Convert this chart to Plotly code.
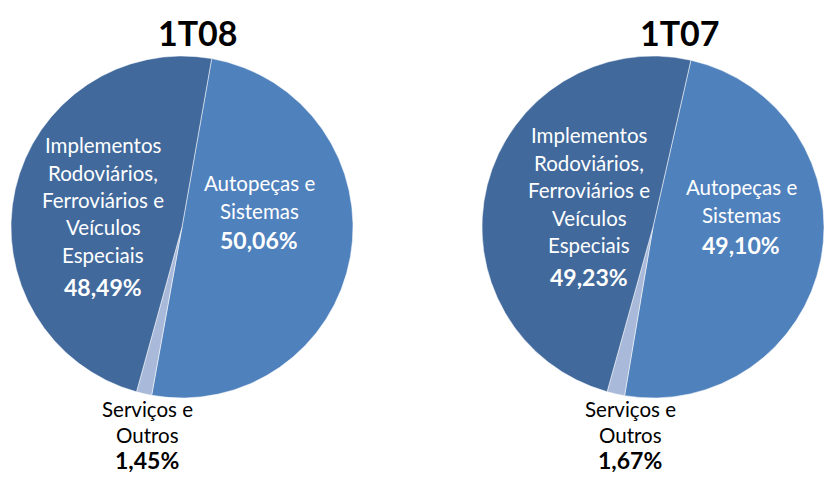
import plotly.graph_objects as go

# ---- data ----
periods = ["1T08", "1T07"]
segments = ["Autopeças e Sistemas", "Serviços e Outros",
            "Implementos Rodoviários, Ferroviários e Veículos Especiais"]
values_1t08 = [50.06, 1.45, 48.49]
values_1t07 = [49.10, 1.67, 49.23]
label_lines = [
    ["Autopeças e", "Sistemas"],
    ["Serviços e", "Outros"],
    ["Implementos", "Rodoviários,", "Ferroviários e", "Veículos", "Especiais"],
]

# ---- style / layout constants ----
W, H = 824, 477
colors = ["#4F81BD", "#A9B9D9", "#41699C"]
text_colors = ["white", "black", "white"]
FONT = "Lato"

# pie geometry (pixels)
pies = [
    dict(cx=182, cy=227, r=171, rot=10),
    dict(cx=653, cy=227, r=171, rot=12.8),
]
# label block anchors (pixel coords of first line) per pie per segment
label_pos = [
    [(259, 183), (147, 409), (103, 145)],
    [(741, 187), (630, 409), (589, 135)],
]
line_gap = [27.5, 26, 27.5]
pct_gap = [30, 25, 32]
title_pos = [(198, 32), (680, 32)]

def px(x):
    return x / W

def py(y):
    return 1 - y / H

fig = go.Figure()
all_values = [values_1t08, values_1t07]
annotations = []
for i, (period, vals) in enumerate(zip(periods, all_values)):
    p = pies[i]
    fig.add_trace(go.Pie(
        labels=segments, values=vals, sort=False, direction="clockwise",
        rotation=p["rot"], textinfo="none", hoverinfo="label+percent",
        marker=dict(colors=colors, line=dict(color="rgba(255,255,255,0.5)", width=1)),
        domain=dict(x=[px(p["cx"] - p["r"]), min(1, px(p["cx"] + p["r"]))],
                    y=[py(p["cy"] + p["r"]), py(p["cy"] - p["r"])]),
        showlegend=False, name=period,
    ))
    tx, ty = title_pos[i]
    annotations.append(dict(x=px(tx), y=py(ty), xref="paper", yref="paper",
                            text=f"<b>{period}</b>", showarrow=False,
                            xanchor="center", yanchor="middle",
                            font=dict(family=FONT, size=34, color="black")))
    for j, lines in enumerate(label_lines):
        lx, ly = label_pos[i][j]
        for k, line in enumerate(lines):
            annotations.append(dict(x=px(lx), y=py(ly + k * line_gap[j]), xref="paper", yref="paper",
                                    text=line, showarrow=False, xanchor="center", yanchor="middle",
                                    borderpad=0,
                                    font=dict(family=FONT, size=20.5, color=text_colors[j])))
        pct = f"{vals[j]:.2f}%".replace(".", ",")
        annotations.append(dict(x=px(lx), y=py(ly + (len(lines) - 1) * line_gap[j] + pct_gap[j]),
                                xref="paper", yref="paper", borderpad=0,
                                text=f"<b>{pct}</b>", showarrow=False, xanchor="center", yanchor="middle",
                                font=dict(family=FONT, size=23, color=text_colors[j])))

fig.update_layout(width=W, height=H, margin=dict(l=0, r=0, t=0, b=0),
                  paper_bgcolor="white", plot_bgcolor="white",
                  annotations=annotations)
fig.write_html("out.html", config={"displayModeBar": False},
               post_script="document.body.style.margin='0';")
